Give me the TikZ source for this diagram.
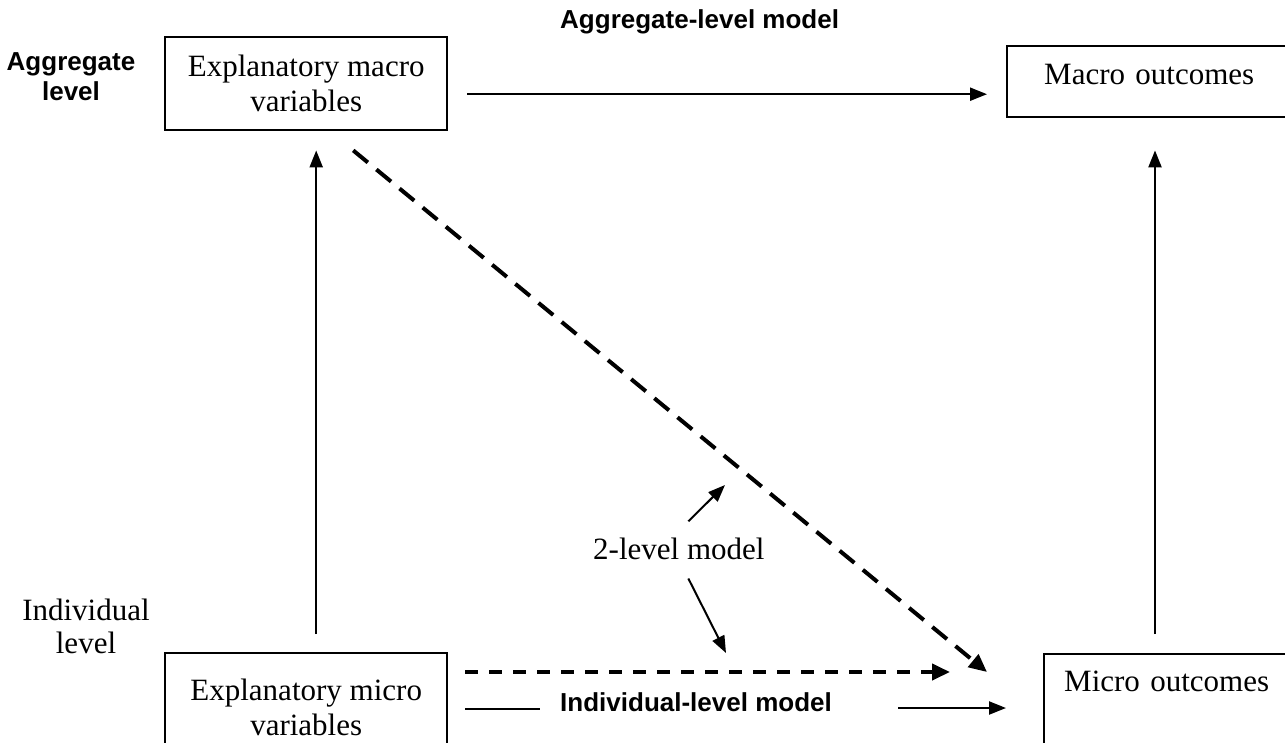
\documentclass[tikz,border=0pt]{standalone}
\usepackage{fontspec}
\setmainfont{Liberation Serif}
\newfontfamily\labsans{Liberation Sans}
\usetikzlibrary{arrows.meta,calc}
\begin{document}
\begin{tikzpicture}[x=1pt,y=-1pt,
  box/.style={draw, line width=2.4pt, inner xsep=0pt, inner ysep=0pt, font=\fontsize{31}{35}\selectfont},
  serif/.style={inner sep=0pt, font=\fontsize{31}{33}\selectfont},
  sanslab/.style={inner sep=0pt, font=\labsans\bfseries\fontsize{26}{30}\selectfont},
  arr/.style={line width=2.2pt, -{Triangle[length=17pt,width=13pt]}},
  thinarr/.style={line width=2pt, -{Triangle[length=17pt,width=13pt]}},
  dasharr/.style={line width=4pt, dash pattern=on 13pt off 11pt, -{Triangle[length=18pt,width=16pt]}},
  diagarr/.style={line width=4pt, dash pattern=on 19pt off 11pt, -{Triangle[length=18pt,width=16pt]}},
  plain/.style={line width=2.2pt}]
\useasboundingbox (0,0) rectangle (1285,742);
\fill[white] (0,0) rectangle (1285,742);
\clip (0,0) rectangle (1285,742);

% boxes
\node[box, anchor=north west, minimum width=282pt, text height=39pt, text depth=54pt] (macrovar) at (164,36)
  {\begin{tabular}[t]{@{}c@{}}Explanatory macro\\variables\end{tabular}};
\node[box, anchor=north west, inner xsep=37pt, text width=260pt, align=left, text height=38pt, text depth=33pt] (macroout) at (1006,45)
  {Macro outcomes};
\node[box, anchor=north west, minimum width=282pt, text height=47pt, text depth=100pt] (microvar) at (164,652)
  {\begin{tabular}[t]{@{}c@{}}Explanatory micro\\variables\end{tabular}};
\node[box, anchor=north west, inner xsep=20pt, text width=260pt, align=left, text height=37pt, text depth=100pt] (microout) at (1043,653)
  {Micro outcomes};

% labels
\node[sanslab, anchor=base] (agglevel) at (71,70) {\begin{tabular}[t]{@{}c@{}}Aggregate\\level\end{tabular}};
\node[serif, anchor=base] (indlevel) at (86,620) {\begin{tabular}[t]{@{}c@{}}Individual\\level\end{tabular}};
\node[sanslab, anchor=base west] (agglab) at (560,28) {Aggregate-level model};
\node[sanslab, anchor=base west] (indlab) at (560,711) {Individual-level model};
\node[serif, anchor=base west] (twolab) at (593,559) {2-level model};

% connectors
\draw[arr, shorten <=19pt, shorten >=19pt] ($(macrovar.east)+(0,10.5)$) -- ($(macroout.west)+(0,12.5)$);
\draw[arr, shorten <=18pt, shorten >=19pt] ($(microvar.north)+(10,0)$) -- ($(macrovar.south)+(10,0)$);
\draw[arr] ($(microout.north west)+(112,-19)$) -- ($(macroout.south west)+(149,32)$);
\draw[diagarr] ($(macrovar.south)+(47,19)$) -- ($(microout.north west)+(-56,19)$);
\draw[dasharr] ($(microvar.north east)+(17,20)$) -- ($(microout.north west)+(-93,19)$);
\draw[plain] ($(microvar.north east)+(17,57)$) -- ($(indlab.base west)+(-20,-2)$);
\draw[arr] ($(indlab.base east)+(66,-3)$) -- ($(microout.north west)+(-37,55)$);

\coordinate (p1) at (725,485);
\coordinate (p2) at (726,653);
\draw[thinarr] ($(twolab.north)+(9.5,-16)$) -- (p1);
\draw[thinarr] ($(twolab.south)+(9.5,19)$) -- (p2);
\end{tikzpicture}
\end{document}
